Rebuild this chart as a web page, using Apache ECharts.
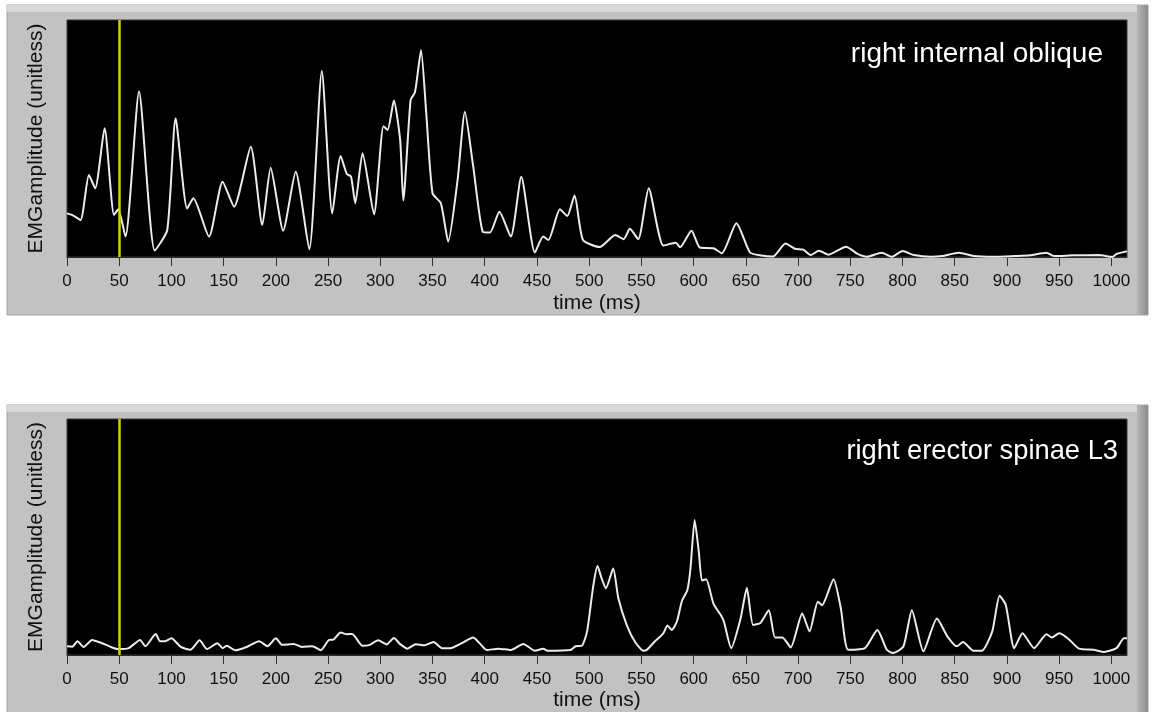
<!DOCTYPE html>
<html>
<head>
<meta charset="utf-8">
<script src="https://cdn.jsdelivr.net/npm/echarts@6/dist/echarts.min.js"></script>
<style>
html,body{margin:0;padding:0;background:#fff;}
#c{width:1161px;height:712px;}
</style>
</head>
<body>
<div id="c"></div>
<script>
// ---- data ----
const tickValues = [0,50,100,150,200,250,300,350,400,450,500,550,600,650,700,750,800,850,900,950,1000];
const panelTitles = ['right internal oblique', 'right erector spinae L3'];
const xName = 'time (ms)';
const yName = 'EMGamplitude (unitless)';
const markerTime = 50;

const topTime = [0,6,13,21,27,36,45,49,56,69,84,96,104,115,121,136,149,160,176,187,195,207,219,232,244,254,262,268,272,276,283,294,303,307,313,319,322,329,333,335,339,344,350,358,365,374,381,389,398,405,414,425,435,448,456,461,472,479,486,494,510,525,533,539,547,557,571,583,587,598,606,619,627,641,654,665,676,688,697,705,712,720,729,739,746,757,766,780,790,800,811,827,838,854,868,887,907,922,938,945,964,988,1001,1005,1013,1015];
const topAmp  = [18.4,17.5,15.6,34.6,29,54.3,17.7,20.1,8.6,69.8,2.7,11.4,58.5,20.5,24.8,8.6,31.8,21.2,46.5,13.5,37.7,11.1,36,3.2,78.5,18.4,42.6,35,33.9,22.7,43.8,18,55.2,53.6,66,49.4,23.8,66.2,69.3,74.7,87.3,60.6,26.9,22.7,6.5,32.5,61.3,38.1,10.7,10.3,19.1,8.6,33.9,1.9,8.6,7.2,20.1,17.3,26,7.3,4.2,9.3,7.5,11.9,7.5,29,4.8,6,4.1,11.1,4,3.7,1.6,14.2,1.9,0.6,0.2,5.7,3.5,3.1,0.8,2.6,1,3,4.3,1.3,0.1,1.8,0.1,2.5,0.8,0.1,0.4,1.8,0.4,0.1,0.4,0.7,1.8,0.4,0.7,0.8,0,1.3,2.2,2.5];

const botTime = [0,5,10,16,24,32,42,49,59,70,75,85,89,94,100,109,118,127,134,144,149,153,161,172,184,192,200,206,217,225,235,243,251,255,262,268,273,283,290,298,306,313,319,326,334,342,351,359,367,378,389,394,402,413,425,437,448,456,460,482,487,493,498,504,508,512,516,523,528,536,544,552,555,563,571,575,579,584,589,594,597,601,605,608,612,619,626,629,636,645,651,657,664,672,678,685,693,704,711,719,723,734,741,748,764,776,785,791,801,809,820,833,843,852,858,868,876,886,893,899,907,915,926,938,943,950,959,969,983,993,1005,1012,1015];
const botAmp  = [3.7,3.5,5.8,3.4,6.4,5.3,3.4,2.5,2.9,6.4,3.7,8.9,5.8,5.8,7.1,3.4,2.2,6.2,2.5,5,2.9,3.9,2,3.4,5.8,3.7,7.1,4.3,4.7,3.4,3.7,2,6.4,6.5,9.5,8.8,8.9,3.9,4.3,6.2,4.5,7.2,4.6,2.7,4.6,4.1,5.5,2.9,2.9,5,7.4,5.5,2.1,2.7,2.1,4.7,1.8,2.7,1.8,2.1,3.7,3.9,10,29.5,37.7,32.4,28.2,36.6,23.9,12.7,5.5,1.8,2.1,5.8,9.2,12.5,10.6,14.2,23.2,27.4,36.6,57.2,43.6,31.6,32.1,21.8,16.9,14.2,2.9,15.5,28.4,12.7,13.6,19,7.4,7.4,3.2,17.6,10,22.6,21.1,32.1,19.7,2.2,2.9,10.6,2.2,0.8,3.7,19,1.6,15.5,7.9,3.7,5.5,1.8,1.8,10,25.1,21.1,2.9,9.2,2.9,8.8,7.4,9.2,6.8,2.7,2.2,1.3,2.9,7.1,7.1];

// ---- chart ----
const FONT = '"Liberation Sans", Arial, sans-serif';
const chart = echarts.init(document.getElementById('c'), null, {renderer: 'canvas'});

function xAxisCfg(idx, gap) {
  return {
    gridIndex: idx, type: 'value', min: 0, max: 1015,
    axisLine: {show: true, onZero: false, lineStyle: {color: '#2a2a2a', width: 1}},
    axisTick: {show: true, length: 9, customValues: tickValues, lineStyle: {color: '#333', width: 1}},
    axisLabel: {customValues: tickValues, color: '#111', fontSize: 17, margin: 16, fontFamily: FONT,
      formatter: (v) => String(v)},
    splitLine: {show: false},
    name: xName, nameLocation: 'middle', nameGap: gap,
    nameTextStyle: {color: '#111', fontSize: 21, fontFamily: FONT}
  };
}
function yAxisCfg(idx) {
  return {
    gridIndex: idx, type: 'value', min: 0, max: 100,
    axisLine: {show: false}, axisTick: {show: false}, axisLabel: {show: false},
    splitLine: {show: false},
    name: yName, nameLocation: 'middle', nameGap: 20, nameRotate: 90,
    nameTextStyle: {color: '#111', fontSize: 21, fontFamily: FONT}
  };
}
function seriesCfg(idx, times, amps) {
  return {
    type: 'line', xAxisIndex: idx, yAxisIndex: idx,
    data: times.map((t, i) => [t, amps[i]]),
    showSymbol: false, smooth: 0.2, clip: true,
    lineStyle: {color: '#ececec', width: 2},
    markLine: {
      silent: true, symbol: ['none', 'none'], label: {show: false},
      lineStyle: {color: '#d2d200', width: 2.5, type: 'solid'},
      data: [{xAxis: markerTime}]
    }
  };
}

const panelRect = (y) => ({
  type: 'group', z: -10, children: [
    {type: 'rect', z: -10, shape: {x: 7, y: y, width: 1141, height: 310}, style: {fill: '#c2c2c2', stroke: '#a5a5a5', lineWidth: 1}},
    {type: 'rect', z: -9, shape: {x: 7, y: y, width: 1141, height: 7}, style: {fill: '#d9d9d9'}},
    {type: 'rect', z: -9, shape: {x: 1137, y: y, width: 11, height: 310},
      style: {fill: new echarts.graphic.LinearGradient(0, 0, 1, 0, [{offset: 0, color: '#b6b6b6'}, {offset: 1, color: '#8c8c8c'}])}}
  ]
});

chart.setOption({
  animation: false,
  backgroundColor: '#ffffff',
  graphic: [panelRect(5), panelRect(405)],
  title: [
    {text: panelTitles[0], right: 53, top: 35, textStyle: {color: '#ffffff', fontSize: 28, fontWeight: 'normal', fontFamily: FONT}},
    {text: panelTitles[1], right: 38, top: 433, textStyle: {color: '#ffffff', fontSize: 27.3, fontWeight: 'normal', fontFamily: FONT}}
  ],
  grid: [
    {left: 67, right: 34, top: 20, height: 237, show: true, backgroundColor: '#000', borderColor: '#3a3a3a', borderWidth: 1},
    {left: 67, right: 34, top: 419, height: 238, show: true, backgroundColor: '#000', borderColor: '#3a3a3a', borderWidth: 1}
  ],
  xAxis: [xAxisCfg(0, 36), xAxisCfg(1, 35)],
  yAxis: [yAxisCfg(0), yAxisCfg(1)],
  series: [seriesCfg(0, topTime, topAmp), seriesCfg(1, botTime, botAmp)]
});
</script>
</body>
</html>
